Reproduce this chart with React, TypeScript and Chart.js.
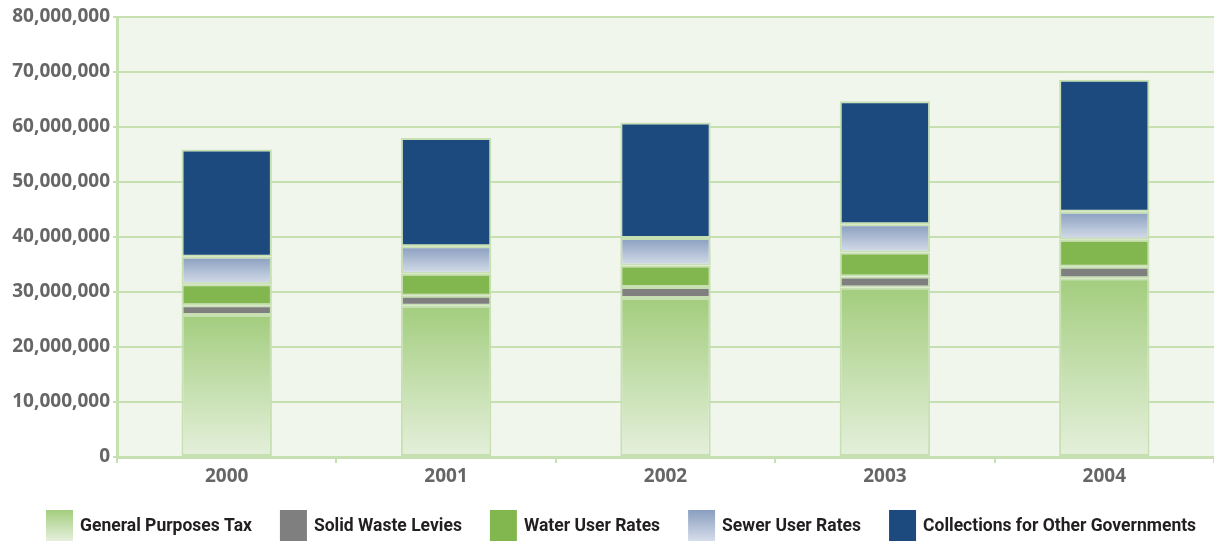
import React, { useEffect, useRef } from "react";
import { Chart, registerables } from "chart.js";

Chart.register(...registerables);

// Revenue by year, stacked by source
const years = ["2000", "2001", "2002", "2003", "2004"];
const generalPurposesTax = [25800000, 27500000, 28900000, 30800000, 32500000];
const solidWasteLevies = [1800000, 1800000, 2000000, 2000000, 2100000];
const waterUserRates = [3800000, 4000000, 3900000, 4400000, 4900000];
const sewerUserRates = [5000000, 5000000, 5000000, 5100000, 5100000];
const collectionsForOtherGovernments = [19500000, 19700000, 21000000, 22400000, 24000000];
const seriesNames = [
  "General Purposes Tax",
  "Solid Waste Levies",
  "Water User Rates",
  "Sewer User Rates",
  "Collections for Other Governments",
];
const yTickValues = [0, 10000000, 20000000, 30000000, 40000000, 50000000, 60000000, 70000000, 80000000];

const seriesValues = [
  generalPurposesTax,
  solidWasteLevies,
  waterUserRates,
  sewerUserRates,
  collectionsForOtherGovernments,
];

const GRID = "#c6e0b2";
const PLOT_BG = "#f1f6ec";

type Fill = { solid?: string; top?: string; bottom?: string };
const fills: Fill[] = [
  { top: "#a3cd7e", bottom: "#e5f0dc" },
  { solid: "#7f7f7f" },
  { solid: "#82b74f" },
  { top: "#8a9ec0", bottom: "#d5dde9" },
  { solid: "#1c4a7e" },
];

// Sum of the series stacked below a dataset at one category
const stackBase = (datasetIndex: number, i: number) => {
  let s = 0;
  for (let d = 0; d < datasetIndex; d++) s += seriesValues[d][i];
  return s;
};

const segmentFill = (datasetIndex: number) => (ctx: any) => {
  const f = fills[datasetIndex];
  if (f.solid) return f.solid;
  const chart = ctx.chart;
  const y = chart.scales && chart.scales.y;
  if (!y || ctx.type !== "data") return f.top;
  const base = stackBase(datasetIndex, ctx.dataIndex);
  const topPx = y.getPixelForValue(base + seriesValues[datasetIndex][ctx.dataIndex]);
  const botPx = y.getPixelForValue(base);
  if (!Number.isFinite(topPx) || !Number.isFinite(botPx) || topPx === botPx) return f.top;
  const g = chart.ctx.createLinearGradient(0, topPx, 0, botPx);
  g.addColorStop(0, f.top!);
  g.addColorStop(1, f.bottom!);
  return g;
};

const plotBackground = {
  id: "plotBackground",
  beforeDraw(chart: any) {
    const { ctx, chartArea } = chart;
    ctx.save();
    ctx.fillStyle = PLOT_BG;
    ctx.fillRect(chartArea.left, chartArea.top, chartArea.right - chartArea.left, chartArea.bottom - chartArea.top);
    ctx.restore();
  },
};

const bottomLegend = {
  id: "bottomLegend",
  afterDraw(chart: any) {
    const ctx = chart.ctx as CanvasRenderingContext2D;
    const boxW = 27;
    const boxH = 31;
    const boxTop = 510;
    const textGap = 7;
    const itemGap = 28;
    let x = 46;
    ctx.save();
    ctx.font = 'bold 17.5px Roboto, "Open Sans", sans-serif';
    ctx.textBaseline = "middle";
    ctx.textAlign = "left";
    seriesNames.forEach((name, d) => {
      const f = fills[d];
      if (f.solid) {
        ctx.fillStyle = f.solid;
      } else {
        const g = ctx.createLinearGradient(0, boxTop, 0, boxTop + boxH);
        g.addColorStop(0, f.top!);
        g.addColorStop(1, f.bottom!);
        ctx.fillStyle = g;
      }
      ctx.fillRect(x, boxTop, boxW, boxH);
      ctx.fillStyle = "#231f20";
      const tx = x + boxW + textGap;
      ctx.fillText(name, tx, boxTop + boxH / 2 + 1);
      x = tx + ctx.measureText(name).width + itemGap;
    });
    ctx.restore();
  },
};

export default function App() {
  const canvasRef = useRef<HTMLCanvasElement | null>(null);

  useEffect(() => {
    const canvas = canvasRef.current;
    if (!canvas) return;
    const chart = new Chart(canvas, {
      type: "bar",
      data: {
        labels: years,
        datasets: seriesNames.map((name, d) => ({
          label: name,
          data: seriesValues[d],
          backgroundColor: segmentFill(d),
          borderColor: GRID,
          borderWidth: 2,
          borderSkipped: false,
          categoryPercentage: 0.8,
          barPercentage: 0.515,
        })),
      },
      options: {
        responsive: false,
        animation: false,
        devicePixelRatio: 1,
        layout: { padding: { top: 17, right: 0, bottom: 0, left: 0 } },
        plugins: {
          legend: { display: false },
          tooltip: { enabled: false },
        },
        scales: {
          x: {
            stacked: true,
            grid: {
              display: true,
              drawOnChartArea: false,
              drawTicks: true,
              tickLength: 6,
              color: GRID,
              lineWidth: 2,
              offset: true,
            },
            border: { display: true, color: GRID, width: 3 },
            ticks: {
              color: "#666666",
              padding: 2,
              font: { family: '"Open Sans", sans-serif', size: 19, weight: "bold" },
            },
            afterFit: (s: any) => {
              s.height = 85;
            },
          },
          y: {
            stacked: true,
            min: 0,
            max: 80000000,
            afterBuildTicks: (s: any) => {
              s.ticks = yTickValues.map((v) => ({ value: v }));
            },
            grid: {
              color: GRID,
              lineWidth: 2,
              tickLength: 4,
              drawTicks: true,
            },
            border: { display: true, color: GRID, width: 3 },
            ticks: {
              color: "#666666",
              padding: 3,
              font: { family: '"Open Sans", sans-serif', size: 19, weight: "bold" },
              callback: (v: any) => Number(v).toLocaleString("en-US"),
            },
            afterFit: (s: any) => {
              s.width = 117;
            },
          },
        },
      },
      plugins: [plotBackground, bottomLegend],
    });
    return () => chart.destroy();
  }, []);

  return (
    <div style={{ position: "fixed", left: 0, top: 0, width: 1214, height: 542, background: "#ffffff" }}>
      <canvas ref={canvasRef} width={1214} height={542} style={{ display: "block" }} />
    </div>
  );
}
